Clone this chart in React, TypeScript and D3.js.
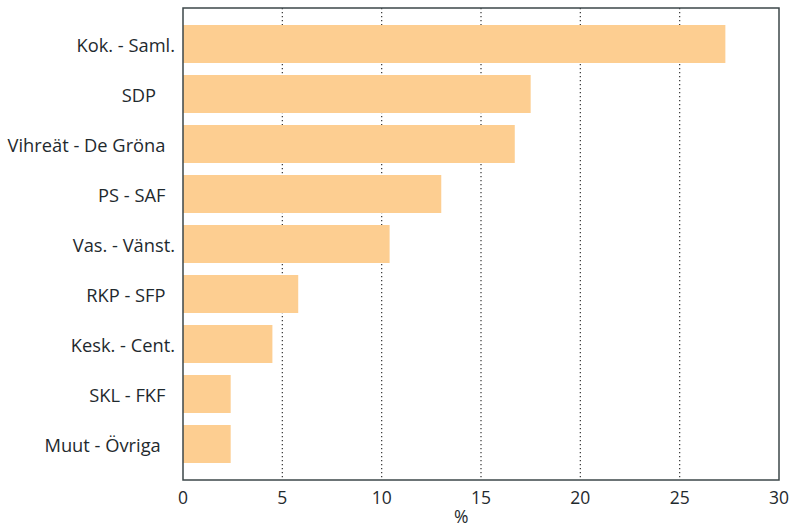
import React from "react";
import * as d3 from "d3";

const categories = [
  "Kok. - Saml.",
  "SDP\u00A0\u00A0\u00A0\u00A0",
  "Vihreät - De Gröna\u00A0\u00A0",
  "PS - SAF\u00A0\u00A0",
  "Vas. - Vänst.",
  "RKP - SFP\u00A0\u00A0",
  "Kesk. - Cent.",
  "SKL - FKF\u00A0\u00A0",
  "Muut - Övriga\u00A0\u00A0\u00A0",
];
const values = [27.3, 17.5, 16.7, 13.0, 10.4, 5.8, 4.5, 2.4, 2.4];
const xTicks = [0, 5, 10, 15, 20, 25, 30];
const xLabel = "%";

const W = 793;
const H = 527;
const M = { left: 183, right: 14, top: 8, bottom: 47 };
const FONT = "'Open Sans', 'Noto Sans', sans-serif";

export default function App() {
  const x = d3.scaleLinear().domain([0, 30]).range([M.left, W - M.right]);
  const y = d3
    .scaleBand<number>()
    .domain(categories.map((_, i) => i))
    .range([M.top, H - M.bottom])
    .paddingInner(0.24)
    .paddingOuter(0.34);
  const x0 = x(0);
  const x1 = x(30);
  const yTop = M.top;
  const yBot = H - M.bottom;
  const textColor = "#1f2a2e";
  const lineColor = "#3c4749";

  return (
    <svg
      width={W}
      height={H}
      style={{ position: "absolute", left: 0, top: 0, background: "#fff" }}
      fontFamily={FONT}
    >
      <rect x={x0} y={yTop} width={x1 - x0} height={yBot - yTop} fill="#fff" />
      {xTicks
        .filter((t) => t > 0 && t < 30)
        .map((t) => (
          <line
            key={"g" + t}
            x1={x(t)}
            x2={x(t)}
            y1={yTop}
            y2={yBot}
            stroke="#333"
            strokeWidth={1.2}
            strokeDasharray="1.3,2.7"
          />
        ))}
      {values.map((v, i) => (
        <rect
          key={"b" + i}
          x={x0}
          y={y(i)}
          width={x(v) - x0}
          height={y.bandwidth()}
          fill="#FDCE91"
        />
      ))}
      <rect
        x={x0}
        y={yTop}
        width={x1 - x0}
        height={yBot - yTop}
        fill="none"
        stroke={lineColor}
        strokeWidth={1.5}
      />
      {categories.map((c, i) => (
        <text
          key={"l" + i}
          x={x0 - 8}
          y={(y(i) as number) + y.bandwidth() / 2}
          textAnchor="end"
          dominantBaseline="central"
          fontSize={18.3}
          fill={textColor}
          style={{ whiteSpace: "pre" }}
        >
          {c}
        </text>
      ))}
      {xTicks.map((t) => (
        <text
          key={"t" + t}
          x={x(t)}
          y={yBot + 17}
          textAnchor="middle"
          dominantBaseline="central"
          fontSize={17.5}
          fill={textColor}
        >
          {t}
        </text>
      ))}
      <text
        x={x(14)}
        y={yBot + 36}
        textAnchor="middle"
        dominantBaseline="central"
        fontSize={17.5}
        fill={textColor}
      >
        {xLabel}
      </text>
    </svg>
  );
}
